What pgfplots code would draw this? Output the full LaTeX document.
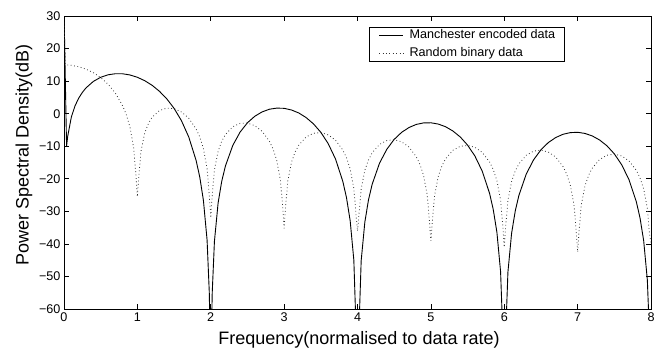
\documentclass[border=0pt]{standalone}
\usepackage{fontspec}
\setmainfont{Liberation Sans}
\usepackage{pgfplots}
\pgfplotsset{compat=1.18}
\begin{document}
\begin{tikzpicture}
\useasboundingbox (0,0) rectangle (666pt,348pt);
\begin{axis}[
  at={(64pt,39pt)}, anchor=south west,
  scale only axis, width=587pt, height=293pt,
  xmin=0, xmax=8, ymin=-60, ymax=30,
  xtick={0,1,...,8},
  ytick={-60,-50,-40,-30,-20,-10,0,10,20,30},
  yticklabels={−60,−50,−40,−30,−20,−10,0,10,20,30},
  /pgf/number format/assume math mode=true,
  tick align=inside, major tick length=5pt,
  tick style={black, line width=0.6pt},
  axis line style={line width=0.9pt},
  ticklabel style={font=\fontsize{12.6}{14}\selectfont},
  xlabel={Frequency(normalised to data rate)},
  ylabel={Power Spectral Density(dB)},
  label style={font=\fontsize{18}{20}\selectfont},
  xlabel style={at={(axis description cs:0.5026,-0.1195)}, anchor=base},
  ylabel style={at={(axis description cs:-0.068,0.5256)}, anchor=center},
  legend cell align=left,
  legend image code/.code={\draw[#1] plot coordinates {(0pt,0pt) (12pt,0pt) (24pt,0pt)};},
  legend style={at={(axis description cs:0.5196,0.9625)}, anchor=north west,
    draw=black, line width=1.3pt, fill=white,
    font=\fontsize{12.6}{14}\selectfont,
    nodes={inner sep=0pt, text height=9pt, text depth=3pt},
    row sep=6pt, column sep=6pt, inner xsep=9pt, inner ysep=2pt},
]
\addplot[black, line width=0.9pt] coordinates {
(0,32) (0.035,-10) (0.05,-7.01) (0.1,-1.05) (0.15,2.39) (0.2,4.76) (0.25,6.53)
(0.3,7.92) (0.4,9.91) (0.5,11.18) (0.6,11.94) (0.7,12.27) (0.8,12.25) (0.9,11.88)
(1.0,11.18) (1.1,10.13) (1.2,8.73) (1.3,6.89) (1.4,4.58) (1.5,1.64) (1.6,-2.13)
(1.7,-7.15) (1.8,-14.33) (1.85,-19.43) (1.9,-26.63) (1.95,-38.83) (1.98,-54.87)
(2.0,-80) (2.02,-55.05) (2.05,-39.27) (2.1,-27.49) (2.15,-20.74) (2.2,-16.07)
(2.3,-9.77) (2.4,-5.65) (2.5,-2.80) (2.6,-0.80) (2.7,0.54) (2.8,1.37) (2.9,1.71)
(3.0,1.64) (3.1,1.13) (3.2,0.21) (3.3,-1.20) (3.4,-3.13) (3.5,-5.72) (3.6,-9.18)
(3.7,-13.90) (3.8,-20.82) (3.85,-25.80) (3.9,-32.87) (3.95,-44.96) (4.0,-80)
(4.05,-45.18) (4.1,-33.31) (4.15,-26.45) (4.2,-21.68) (4.3,-15.21) (4.4,-10.92)
(4.5,-7.90) (4.6,-5.76) (4.7,-4.27) (4.8,-3.31) (4.9,-2.84) (5.0,-2.80) (5.1,-3.19)
(5.2,-4.01) (5.3,-5.32) (5.4,-7.15) (5.5,-9.65) (5.6,-13.01) (5.7,-17.66)
(5.8,-24.49) (5.85,-29.43) (5.9,-36.47) (5.95,-48.52) (6.0,-80) (6.05,-48.67)
(6.1,-36.76) (6.15,-29.87) (6.2,-25.07) (6.3,-18.53) (6.4,-14.17) (6.5,-11.10)
(6.6,-8.89) (6.7,-7.35) (6.8,-6.34) (6.9,-5.82) (7.0,-5.72) (7.1,-6.07) (7.2,-6.84)
(7.3,-8.10) (7.4,-9.88) (7.5,-12.34) (7.6,-15.67) (7.7,-20.27) (7.8,-27.06)
(7.85,-31.99) (7.9,-39.00) (7.95,-51.04) (8.0,-80)
};
\addlegendentry{Manchester encoded data}
\addplot[black!80, line width=0.8pt, dash pattern=on 0.8pt off 2.6pt] coordinates {
(0,28) (0.02,15.0) (0.05,14.97) (0.1,14.86) (0.2,14.42) (0.3,13.68) (0.4,12.58)
(0.5,11.08) (0.6,9.06) (0.7,6.32) (0.8,2.38) (0.85,-0.39) (0.9,-4.22) (0.95,-10.6)
(0.98,-18.8) (1.0,-25.5) (1.02,-19.15) (1.05,-11.48) (1.1,-5.97) (1.15,-3.02)
(1.2,-1.14) (1.3,0.94) (1.4,1.70) (1.5,1.54) (1.6,0.54) (1.7,-1.39) (1.8,-4.67)
(1.85,-7.14) (1.9,-10.72) (1.95,-16.85) (1.98,-24.91) (2.0,-32) (2.02,-25.09)
(2.05,-17.29) (2.1,-11.58) (2.15,-8.45) (2.2,-6.41) (2.3,-4.01) (2.4,-2.98)
(2.5,-2.90) (2.6,-3.68) (2.7,-5.41) (2.8,-8.50) (2.85,-10.90) (2.9,-14.39)
(2.95,-20.45) (2.98,-28.46) (3.0,-35.2) (3.02,-28.58) (3.05,-20.74) (3.1,-14.97)
(3.15,-11.77) (3.2,-9.66) (3.3,-7.15) (3.4,-6.01) (3.5,-5.82) (3.6,-6.51)
(3.7,-8.14) (3.8,-11.16) (3.85,-13.51) (3.9,-16.96) (3.95,-22.98) (3.98,-30.98)
(4.0,-36) (4.02,-31.07) (4.05,-23.20) (4.1,-17.40) (4.15,-14.16) (4.2,-12.02)
(4.3,-9.45) (4.4,-8.25) (4.5,-8.00) (4.6,-8.64) (4.7,-10.22) (4.8,-13.18)
(4.85,-15.51) (4.9,-18.94) (4.95,-24.94) (4.98,-32.92) (5.0,-39) (5.02,-32.99)
(5.05,-25.12) (5.1,-19.29) (5.15,-16.04) (5.2,-13.88) (5.3,-11.27) (5.4,-10.03)
(5.5,-9.75) (5.6,-10.34) (5.7,-11.90) (5.8,-14.83) (5.85,-17.14) (5.9,-20.56)
(5.95,-26.54) (5.98,-34.51) (6.0,-41) (6.02,-34.57) (6.05,-26.69) (6.1,-20.85)
(6.15,-17.58) (6.2,-15.41) (6.3,-12.77) (6.4,-11.50) (6.5,-11.20) (6.6,-11.77)
(6.7,-13.30) (6.8,-16.21) (6.85,-18.51) (6.9,-21.92) (6.95,-27.89) (6.98,-35.86)
(7.0,-42.5) (7.02,-35.91) (7.05,-28.01) (7.1,-22.17) (7.15,-18.89) (7.2,-16.71)
(7.3,-14.05) (7.4,-12.76) (7.5,-12.44) (7.6,-13.00) (7.7,-14.51) (7.8,-17.40)
(7.85,-19.70) (7.9,-23.09) (7.95,-29.06) (7.98,-37.02) (8.0,-40)
};
\addlegendentry{Random binary data}
\end{axis}
\end{tikzpicture}
\end{document}
